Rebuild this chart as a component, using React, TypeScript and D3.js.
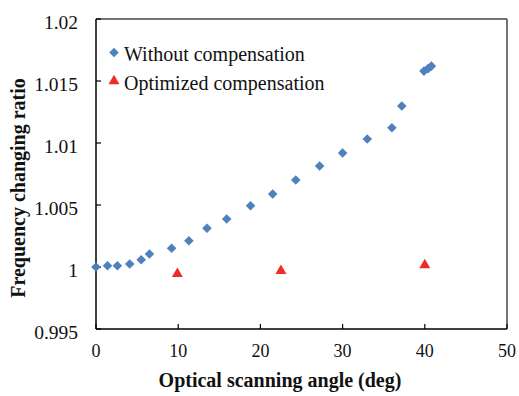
import React from "react";
import * as d3 from "d3";

// Frequency changing ratio vs. optical scanning angle
const angleWithout = [0, 1.4, 2.6, 4.1, 5.5, 6.5, 9.2, 11.3, 13.5, 15.9, 18.8, 21.5, 24.3, 27.2, 30.0, 33.0, 36.0, 37.2, 39.9, 40.4, 40.8];
const ratioWithout = [1.0, 1.0001, 1.0001, 1.00024, 1.00059, 1.00105, 1.00151, 1.00212, 1.00312, 1.00387, 1.00494, 1.00589, 1.00702, 1.00815, 1.00919, 1.01032, 1.01123, 1.01298, 1.0158, 1.016, 1.0162];
const angleOptimized = [9.9, 22.5, 40.0];
const ratioOptimized = [0.99944, 0.9997, 1.00016];

const xTicks = [0, 10, 20, 30, 40, 50];
const yTicks = [0.995, 1, 1.005, 1.01, 1.015, 1.02];
const yTickLabels = ["0.995", "1", "1.005", "1.01", "1.015", "1.02"];
const seriesNames = ["Without compensation", "Optimized compensation"];

const W = 519;
const H = 396;
const margin = { left: 96, right: 12, top: 19, bottom: 67 };
const FONT = "'Liberation Serif', 'Times New Roman', 'DejaVu Serif', serif";
const BLUE = "#4f81bd";
const RED = "#ee2c24";

const textStyle = { fontFamily: FONT };

export default function App() {
  const x = d3.scaleLinear().domain([0, 50]).range([margin.left, W - margin.right]);
  const y = d3.scaleLinear().domain([0.995, 1.02]).range([H - margin.bottom, margin.top]);
  // square rotated 45 degrees gives an equal-sided diamond marker
  const diamond = d3.symbol().type(d3.symbolSquare).size(46)()!;
  const triangle = d3.symbol().type(d3.symbolTriangle).size(52)()!;
  const [x0, x1] = x.range();
  const [yb, yt] = y.range();

  return (
    <svg
      width={W}
      height={H}
      style={{ position: "absolute", left: 0, top: 0, background: "#fff" }}
    >
      {/* plot frame */}
      <line x1={x0} x2={x1} y1={yt} y2={yt} stroke="#444" strokeWidth={1.5} />
      <line x1={x1} x2={x1} y1={yt} y2={yb} stroke="#444" strokeWidth={1.5} />
      <line x1={x0} x2={x0} y1={yt} y2={yb} stroke="#000" strokeWidth={1.5} />
      <line x1={x0} x2={x1} y1={yb} y2={yb} stroke="#000" strokeWidth={1.5} />

      {/* y axis ticks */}
      {yTicks.map((t, i) => (
        <g key={"y" + i}>
          <line x1={x0} x2={x0 + 5} y1={y(t)} y2={y(t)} stroke="#000" strokeWidth={1.2} />
          <text x={x0 - 18} y={y(t) + 9.5} textAnchor="end" fontSize={19.5} fill="#111" style={textStyle}>
            {yTickLabels[i]}
          </text>
        </g>
      ))}

      {/* x axis ticks */}
      {xTicks.map((t, i) => (
        <g key={"x" + i}>
          <line x1={x(t)} x2={x(t)} y1={yb} y2={yb - 5} stroke="#000" strokeWidth={1.2} />
          <text x={x(t)} y={357} textAnchor="middle" fontSize={18} fill="#111" style={textStyle}>
            {t}
          </text>
        </g>
      ))}

      {/* axis titles */}
      <text x={280} y={387} textAnchor="middle" fontSize={20} fontWeight="bold" fill="#111" style={textStyle}>
        Optical scanning angle (deg)
      </text>
      <text
        transform={`translate(25,188) rotate(-90)`}
        textAnchor="middle"
        fontSize={20}
        fontWeight="bold"
        fill="#111"
        style={textStyle}
      >
        Frequency changing ratio
      </text>

      {/* series */}
      {angleWithout.map((a, i) => (
        <path
          key={"w" + i}
          d={diamond}
          transform={`translate(${x(a)},${y(ratioWithout[i])}) rotate(45)`}
          fill={BLUE}
        />
      ))}
      {angleOptimized.map((a, i) => (
        <path key={"o" + i} d={triangle} transform={`translate(${x(a)},${y(ratioOptimized[i])})`} fill={RED} />
      ))}

      {/* legend */}
      <path d={diamond} transform="translate(114,52.5) rotate(45)" fill={BLUE} />
      <text x={124} y={61} fontSize={20} fill="#111" style={textStyle}>
        {seriesNames[0]}
      </text>
      <path d={triangle} transform="translate(114,81)" fill={RED} />
      <text x={124} y={90} fontSize={20} fill="#111" style={textStyle}>
        {seriesNames[1]}
      </text>
    </svg>
  );
}
